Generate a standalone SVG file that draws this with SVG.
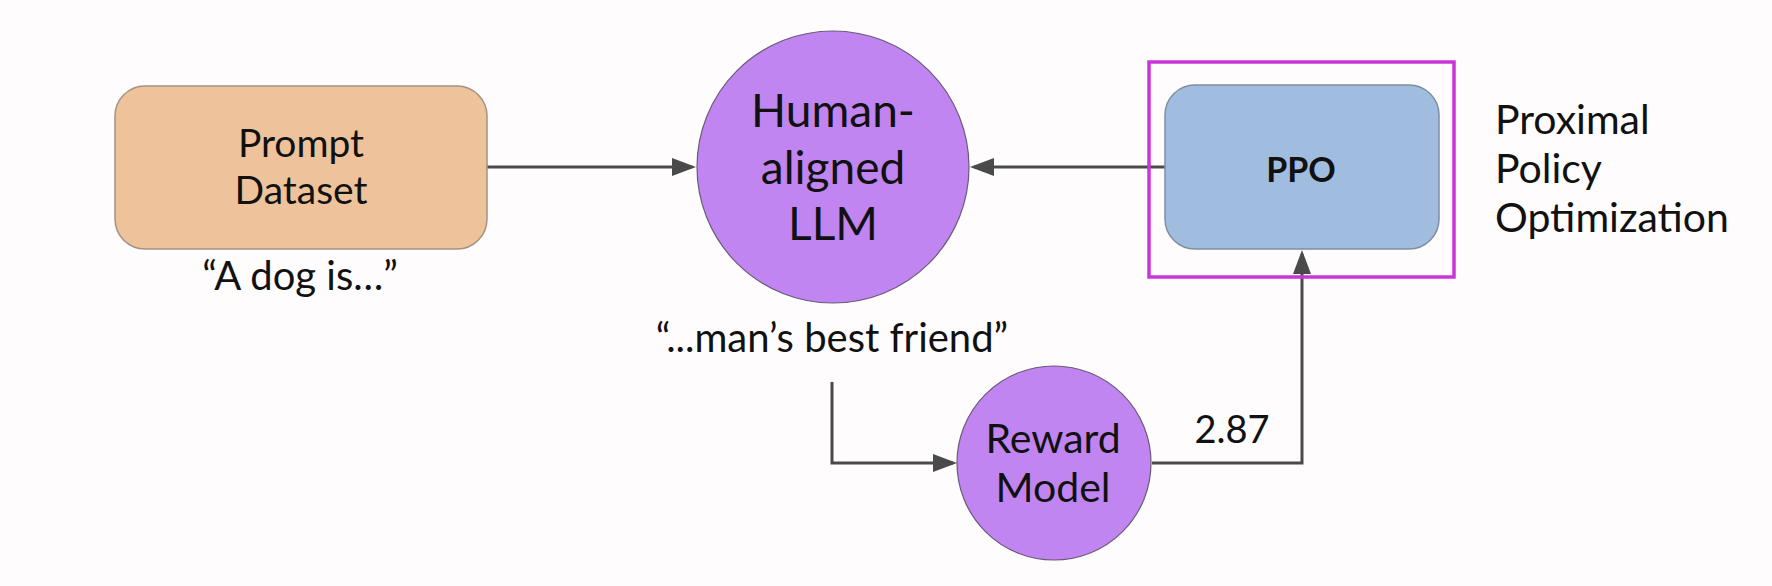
<svg xmlns="http://www.w3.org/2000/svg" width="1772" height="586" viewBox="0 0 1772 586">
  <style>
    text { font-family: Lato, "Liberation Sans", sans-serif; fill: #111; text-anchor: middle; }
    .lbl { font-size: 40px; }
    .side { font-size: 41px; text-anchor: start; }
    .conn { fill: none; stroke: #4a4a4a; stroke-width: 3; }
    .llm { fill: #c185f1; stroke: #6a5a78; stroke-width: 1.2; }
  </style>
  <defs>
    <marker id="arr" markerUnits="userSpaceOnUse" markerWidth="24" markerHeight="18" viewBox="0 0 24 18" refX="20" refY="9" orient="auto">
      <path d="M0,0 L24,9 L0,18 Z" fill="#4a4a4a"/>
    </marker>
  </defs>
  <rect width="1772" height="586" fill="#fefcfd"/>

  <g id="connectors">
    <path class="conn" d="M487,167 H692" marker-end="url(#arr)"/>
    <path class="conn" d="M1165,167 H974" marker-end="url(#arr)"/>
    <path class="conn" d="M832,382 V463 H953" marker-end="url(#arr)"/>
    <path class="conn" d="M1152,463 H1302 V254" marker-end="url(#arr)"/>
  </g>

  <g id="prompt-dataset">
    <rect x="115" y="86" width="372" height="163" rx="30" fill="#eec39b" stroke="#a39282" stroke-width="1.5"/>
    <text x="301" y="157" font-size="39">Prompt</text>
    <text x="301" y="204" font-size="39">Dataset</text>
    <text class="lbl" x="300" y="290">“A dog is…”</text>
  </g>

  <g id="human-aligned-llm">
    <circle class="llm" cx="833" cy="167" r="136"/>
    <text x="833" y="127" font-size="46">Human-</text>
    <text x="833" y="184" font-size="46">aligned</text>
    <text x="833" y="240" font-size="46">LLM</text>
    <text class="lbl" x="832" y="352">“...man’s best friend”</text>
  </g>

  <g id="reward-model">
    <circle class="llm" cx="1054" cy="463" r="97"/>
    <text x="1053" y="453" font-size="41">Reward</text>
    <text x="1053" y="502" font-size="41">Model</text>
    <text x="1232" y="443" font-size="38">2.87</text>
  </g>

  <g id="ppo">
    <rect x="1149" y="62" width="305" height="215" fill="none" stroke="#c935d8" stroke-width="3.5"/>
    <rect x="1165" y="85" width="274" height="164" rx="30" fill="#a0bde0" stroke="#7f8ea0" stroke-width="1.5"/>
    <text x="1301" y="182" font-size="34" font-weight="bold">PPO</text>
  </g>

  <g id="ppo-label">
    <text class="side" x="1495" y="134">Proximal</text>
    <text class="side" x="1495" y="183">Policy</text>
    <text class="side" x="1495" y="232">Optimization</text>
  </g>
</svg>
